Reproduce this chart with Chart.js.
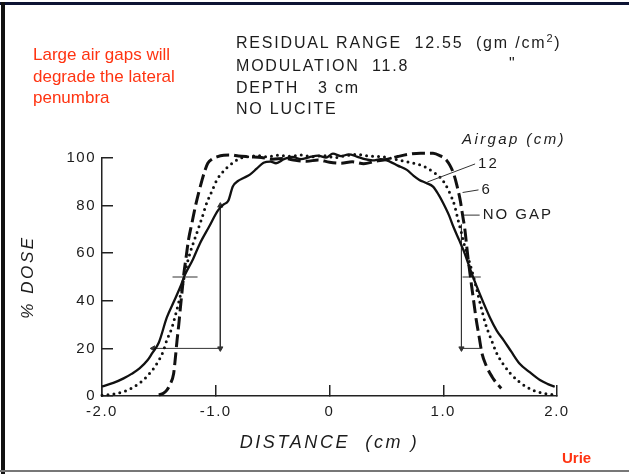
<!DOCTYPE html>
<html>
<head>
<meta charset="utf-8">
<script src="https://cdn.jsdelivr.net/npm/chart.js@4.4.1/dist/chart.umd.min.js"></script>
<style>
  body { margin: 0; background: #fff; }
  #wrap { position: relative; width: 629px; height: 474px; background: #fff; overflow: hidden; }
  #grafica { position: absolute; left: 0; top: 0; }
  .txt { position: absolute; white-space: pre; font-family: "Liberation Sans", Arial, sans-serif; line-height: 22px; }
  .cab { font-size: 16px; letter-spacing: 1.8px; color: #1c1c1c; left: 236px; }
  .rojo { font-size: 17px; color: #ff3311; left: 33px; }
  .borde { position: absolute; }
  sup { font-size: 11px; line-height: 0; }
</style>
</head>
<body>
<div id="wrap">
  <canvas id="grafica" width="629" height="474"></canvas>
  <div class="borde" style="left:0;top:2px;width:629px;height:3px;background:#0d1333"></div>
  <div class="borde" style="left:1px;top:2px;width:4px;height:472px;background:#111"></div>
  <div class="borde" style="left:0;top:470px;width:629px;height:2px;background:#777"></div>

  <div class="txt cab" style="top:32px">RESIDUAL RANGE  12.55  (gm /cm<sup>2</sup>)</div>
  <div class="txt cab" style="top:55px">MODULATION  11.8</div>
  <div class="txt cab" style="top:53px;left:509px">"</div>
  <div class="txt cab" style="top:77px">DEPTH   3 cm</div>
  <div class="txt cab" style="top:98px">NO LUCITE</div>

  <div class="txt rojo" style="top:44px">Large air gaps will</div>
  <div class="txt rojo" style="top:66px">degrade the lateral</div>
  <div class="txt rojo" style="top:87px">penumbra</div>

  <div class="txt" style="left:562px;top:447px;font-size:15px;font-weight:bold;color:#ff3311">Urie</div>
</div>
<script>
// perfiles de dosis (distancia en cm, % dosis)
const gap12X = [-2.0,-1.9,-1.81,-1.74,-1.67,-1.6,-1.56,-1.5,-1.43,-1.37,-1.31,-1.27,-1.2,-1.14,-1.06,-0.98,-0.93,-0.89,-0.85,-0.8,-0.76,-0.7,-0.64,-0.58,-0.52,-0.47,-0.4,-0.33,-0.25,-0.18,-0.1,-0.03,0.03,0.1,0.17,0.24,0.31,0.38,0.45,0.53,0.6,0.68,0.74,0.79,0.85,0.91,0.96,1.0,1.05,1.09,1.14,1.18,1.25,1.32,1.41,1.47,1.53,1.6,1.67,1.76,1.85,1.92,1.98];
const gap12Y = [4,5.5,7.4,9.3,11.6,15,17.9,22.5,33,39.5,46,51,57.5,64,71,78,80.5,82,88,90.5,91.5,93,95.5,98,98.5,97.8,99.5,100.5,99.5,100.3,101,100.2,101.8,100.8,101.5,100.6,99.5,99,99.5,98.5,96.8,95,92.5,90.8,89.5,88,84.5,81,76,71,65.5,61,51.5,43,33,27.5,23.5,18.5,13.7,10,6.7,5,3.9];

const gap6X = [-2.0,-1.9,-1.81,-1.74,-1.67,-1.62,-1.58,-1.54,-1.5,-1.46,-1.43,-1.39,-1.36,-1.33,-1.3,-1.26,-1.22,-1.17,-1.12,-1.08,-1.03,-0.99,-0.94,-0.9,-0.84,-0.79,-0.7,-0.64,-0.55,-0.45,-0.35,-0.25,-0.15,-0.05,0.05,0.15,0.25,0.35,0.45,0.55,0.62,0.7,0.78,0.85,0.91,0.97,1.02,1.06,1.1,1.13,1.16,1.19,1.22,1.25,1.28,1.31,1.34,1.37,1.42,1.47,1.53,1.59,1.66,1.73,1.8,1.88,1.98];
const gap6Y = [0.3,0.8,1.8,3.3,5.4,7.5,9.6,12,15,19,23.5,28,33,38.5,44.5,54,61,68,75,81,86.5,90.8,94,96,98.3,99.8,100.6,101,100.5,101.2,100.7,101.3,100.5,101,100.2,101,101.5,100.8,100.6,99.8,99,98.2,97.3,96,94.2,92,88.8,85,80,74,68.5,62.7,58,53,47.5,41.7,36,30.5,24,18,13.2,9.5,6.3,3.9,2.2,1.1,0.5];

const gap0X = [-1.5,-1.46,-1.43,-1.4,-1.37,-1.355,-1.34,-1.325,-1.31,-1.295,-1.28,-1.26,-1.24,-1.21,-1.18,-1.15,-1.12,-1.095,-1.07,-1.03,-0.99,-0.93,-0.87,-0.8,-0.7,-0.6,-0.5,-0.4,-0.3,-0.2,-0.1,0,0.1,0.2,0.3,0.4,0.5,0.6,0.7,0.8,0.91,0.97,1.03,1.06,1.09,1.12,1.15,1.17,1.19,1.205,1.22,1.235,1.25,1.27,1.29,1.315,1.34,1.38,1.43,1.47,1.51];
const gap0Y = [0.4,1.2,2.5,5,9.5,16,23.5,30,37.5,44.5,51.5,58.5,65.5,72.5,79.5,85.5,90.8,94.8,97.8,99.6,100.5,101.2,101.3,100.8,100.5,100.2,99.5,99.8,99,98.6,99.2,98.2,97.8,98.4,97.6,98.6,99.4,100.6,101.6,102,102,101,99,96.8,93.6,88.5,82,76,70,63.5,57,51.5,46,39,32,25,18,12.5,8,5.3,3.2];

// marcas de penumbra 80-20 y del 50 %
const penIzqX = [-0.96,-0.96,-1.55];
const penIzqY = [80,20,20];
const penDerX = [1.16,1.16,1.32];
const penDerY = [72,20,20];
const mitadIzqX = [-1.38,-1.16];
const mitadDerX = [1.17,1.33];
const mitadY = [50,50];

const xTicks = [-2,-1,0,1,2];
const yTicks = [0,20,40,60,80,100];
const leyenda = ['12','6','NO GAP'];

function puntos(xs, ys) {
    return xs.map((x, i) => ({x: x, y: ys[i]}));
}

const fuente = '"Liberation Sans", Arial, sans-serif';

const textos = {
    id: 'textos',
    beforeDraw(chart) {
        chart.ctx.letterSpacing = '1.5px';
    },
    afterDraw(chart) {
        const ctx = chart.ctx;
        const sx = chart.scales.x, sy = chart.scales.y;
        const area = chart.chartArea;
        ctx.save();
        ctx.fillStyle = '#1c1c1c';
        ctx.strokeStyle = '#333';
        ctx.lineWidth = 1;
        ctx.textBaseline = 'middle';

        // titulos de ejes
        ctx.font = 'italic 18px ' + fuente;
        ctx.letterSpacing = '2.6px';
        ctx.textAlign = 'center';
        ctx.fillText('DISTANCE  (cm )', (area.left + area.right) / 2, area.bottom + 47);
        ctx.save();
        ctx.translate(28, (area.top + area.bottom) / 2);
        ctx.rotate(-Math.PI / 2);
        ctx.font = 'italic 17px ' + fuente;
        ctx.fillText('% DOSE', 0, 0);
        ctx.restore();

        // leyenda con lineas guia
        ctx.textAlign = 'left';
        ctx.font = 'italic 15px ' + fuente;
        ctx.letterSpacing = '2.4px';
        ctx.fillText('Airgap (cm)', sx.getPixelForValue(1.165), sy.getPixelForValue(107.6));
        ctx.font = '15px ' + fuente;
        ctx.letterSpacing = '2px';
        const guias = [[1.28, 97.5, 0.86, 89.9], [1.31, 86.6, 1.17, 85.5], [1.32, 76, 1.18, 76]];
        guias.forEach((g, i) => {
            ctx.beginPath();
            ctx.moveTo(sx.getPixelForValue(g[0]), sy.getPixelForValue(g[1]));
            ctx.lineTo(sx.getPixelForValue(g[2]), sy.getPixelForValue(g[3]));
            ctx.stroke();
            ctx.fillText(leyenda[i], sx.getPixelForValue(g[0]) + 3, sy.getPixelForValue(g[1]));
        });
        ctx.restore();
    }
};

function marca(xs, ys, rot) {
    return {
        data: puntos(xs, ys),
        showLine: true,
        borderColor: '#333',
        backgroundColor: '#333',
        borderWidth: 1,
        pointStyle: 'triangle',
        pointRadius: rot ? rot.map(r => r === null ? 0 : 3) : 0,
        rotation: rot ? rot.map(r => r || 0) : 0,
        clip: false
    };
}

const ctx = document.getElementById('grafica');
new Chart(ctx, {
    type: 'scatter',
    data: {
        datasets: [
            {
                label: '12',
                data: puntos(gap12X, gap12Y),
                showLine: true,
                borderColor: '#111',
                borderWidth: 2.3,
                pointRadius: 0,
                cubicInterpolationMode: 'monotone',
                clip: false
            },
            {
                label: '6',
                data: puntos(gap6X, gap6Y),
                showLine: true,
                borderColor: '#111',
                borderWidth: 3,
                borderDash: [0, 6],
                borderCapStyle: 'round',
                pointRadius: 0,
                cubicInterpolationMode: 'monotone',
                clip: false
            },
            {
                label: 'NO GAP',
                data: puntos(gap0X, gap0Y),
                showLine: true,
                borderColor: '#111',
                borderWidth: 3,
                borderDash: [13, 5],
                pointRadius: 0,
                cubicInterpolationMode: 'monotone',
                clip: false
            },
            marca(penIzqX, penIzqY, [0, 180, 270]),
            marca(penDerX, penDerY, [null, 180, null]),
            marca(mitadIzqX, mitadY, null),
            marca(mitadDerX, mitadY, null)
        ]
    },
    options: {
        responsive: false,
        animation: false,
        devicePixelRatio: 1,
        layout: { padding: { top: 158, right: 72, bottom: 0, left: 0 } },
        plugins: {
            legend: { display: false },
            tooltip: { enabled: false }
        },
        scales: {
            x: {
                type: 'linear',
                min: -2,
                max: 2,
                afterFit: (s) => { s.height = 78; },
                afterBuildTicks: (s) => { s.ticks = xTicks.map(v => ({value: v})); },
                ticks: {
                    padding: 18,
                    color: '#1c1c1c',
                    font: { family: fuente, size: 15 },
                    callback: (v) => v === 0 ? '0' : v.toFixed(1)
                },
                grid: { drawOnChartArea: false, drawTicks: true, tickLength: -11, color: '#222', lineWidth: 1.5 },
                border: { display: true, color: '#222', width: 1.5 }
            },
            y: {
                min: 0,
                max: 100,
                afterFit: (s) => { s.width = 102; },
                afterBuildTicks: (s) => { s.ticks = yTicks.map(v => ({value: v})); },
                ticks: {
                    padding: 17,
                    color: '#1c1c1c',
                    font: { family: fuente, size: 15 }
                },
                grid: { drawOnChartArea: false, drawTicks: true, tickLength: -11, color: '#222', lineWidth: 1.5 },
                border: { display: true, color: '#222', width: 1.5 }
            }
        }
    },
    plugins: [textos]
});
</script>
</body>
</html>
